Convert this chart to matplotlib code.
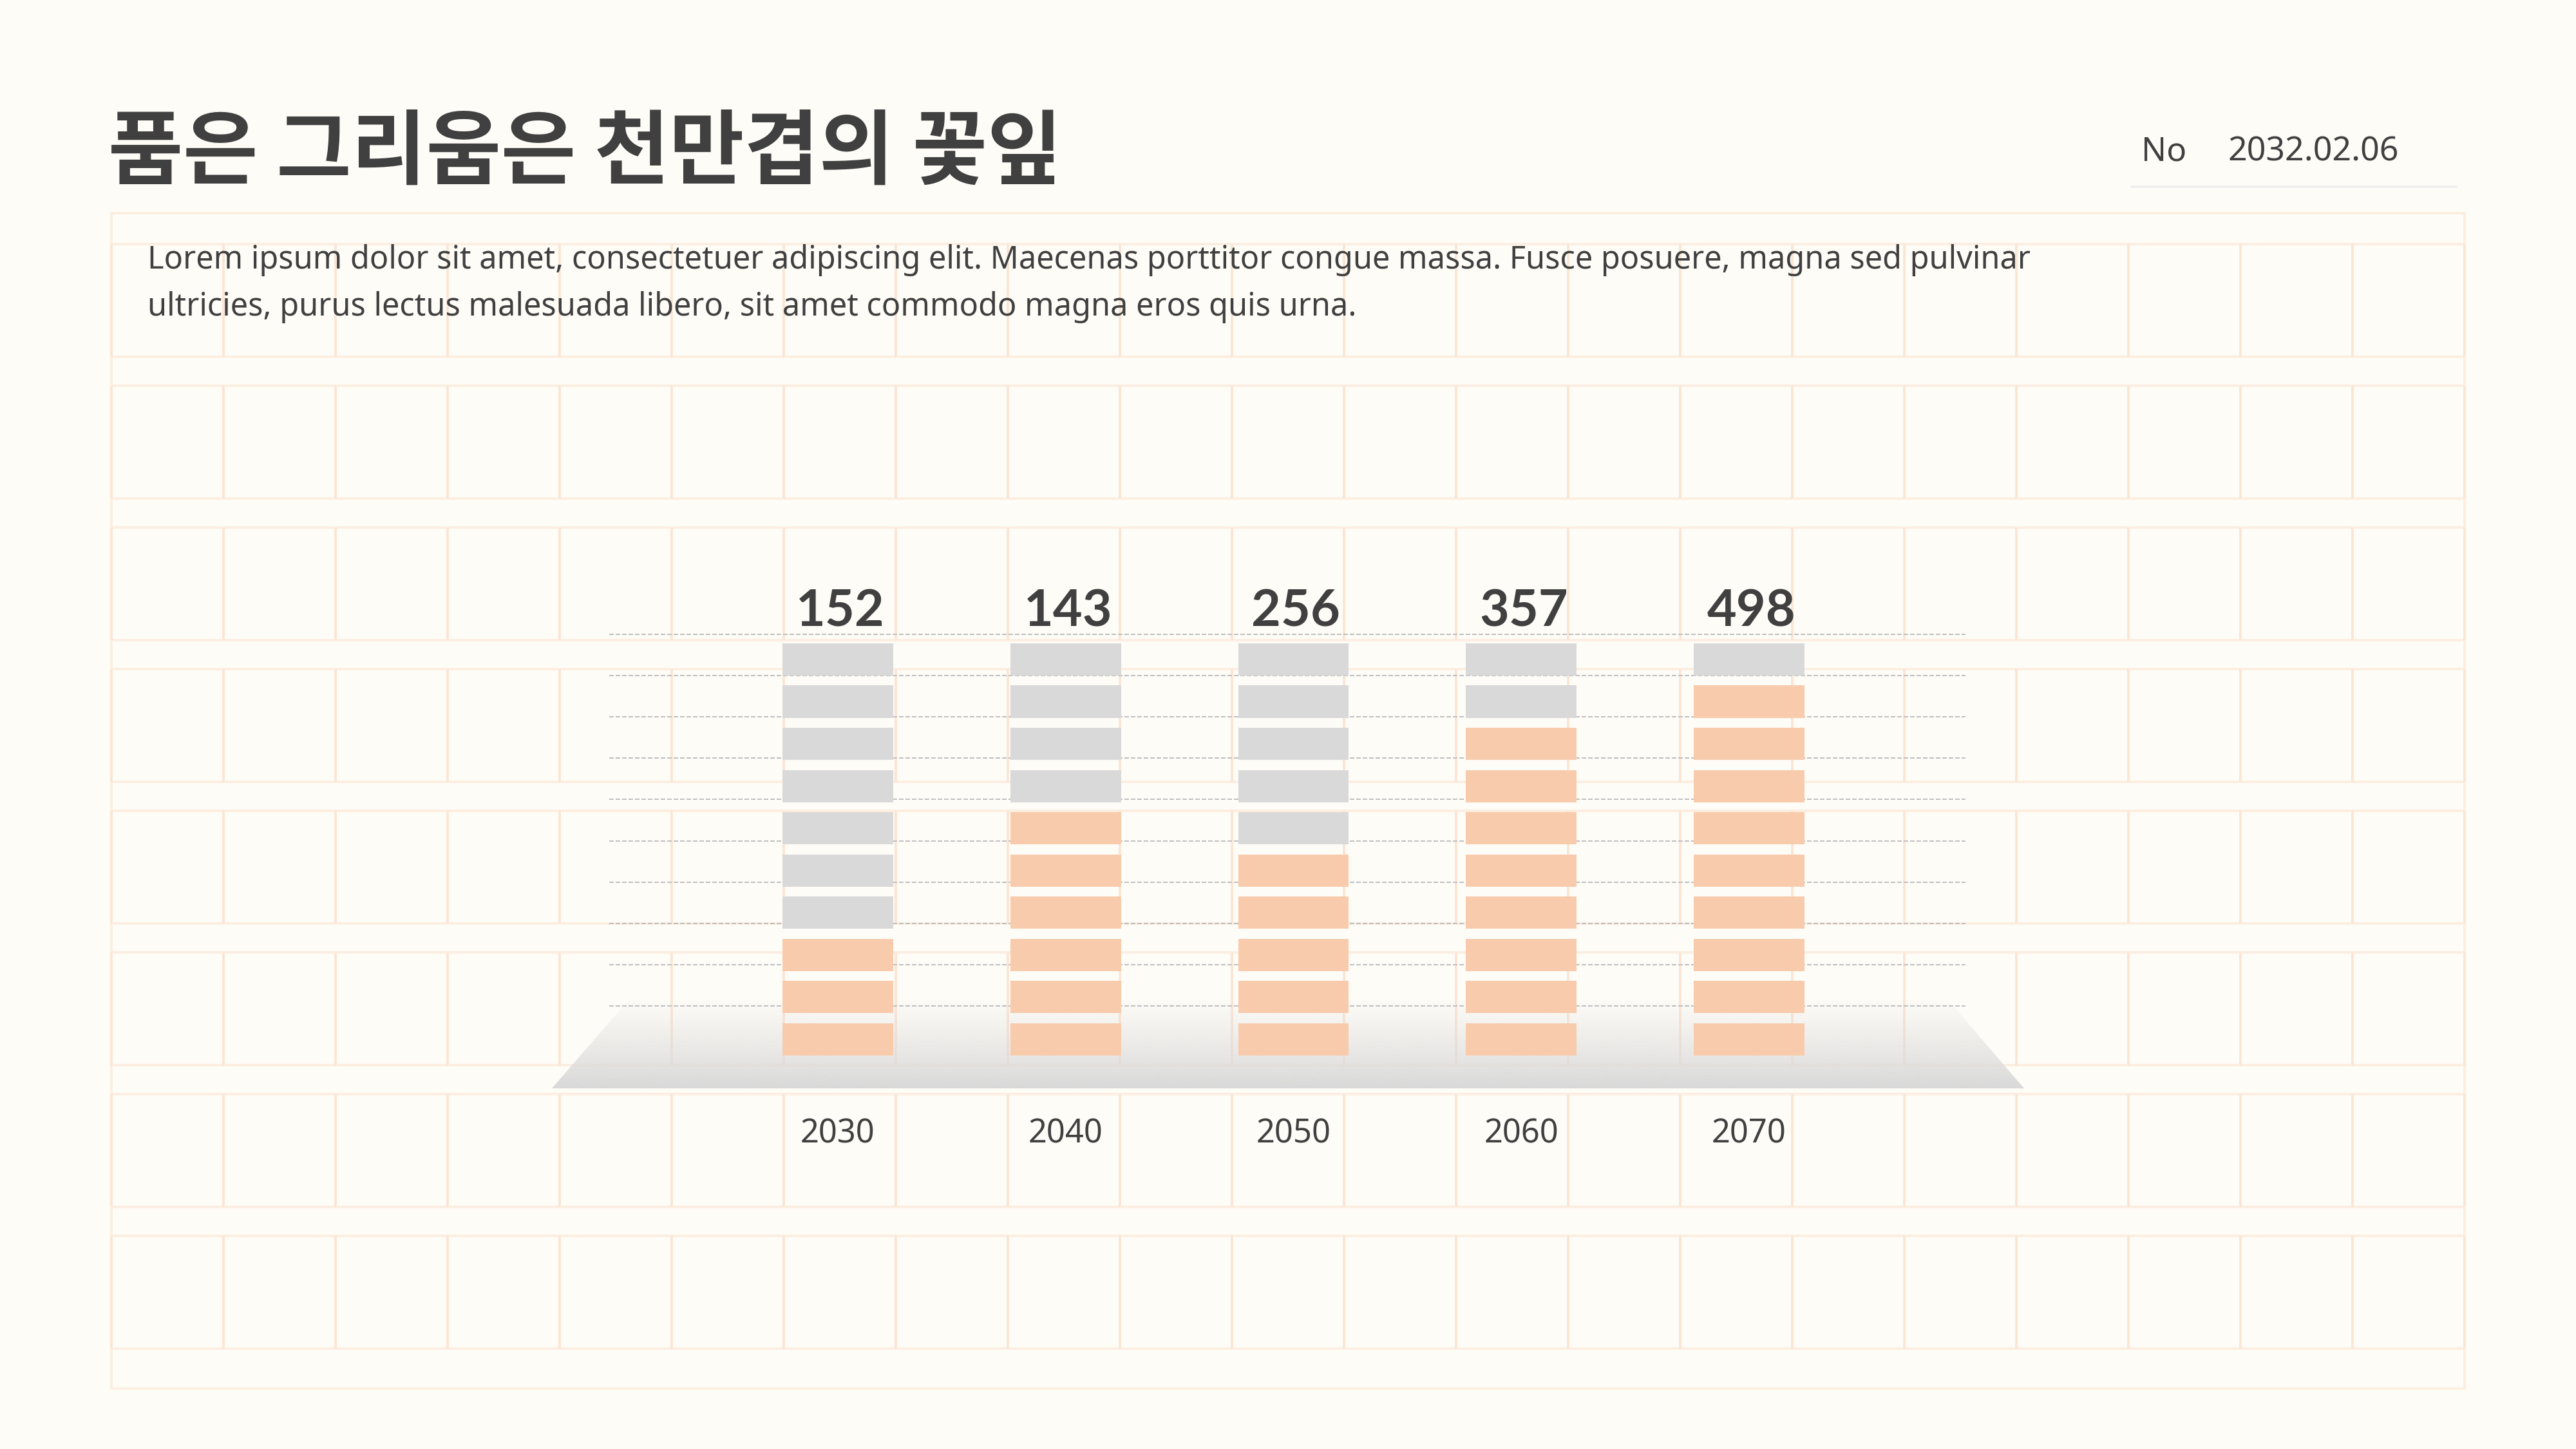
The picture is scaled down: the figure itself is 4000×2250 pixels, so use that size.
import numpy as np
import matplotlib
matplotlib.use('Agg')
import matplotlib.pyplot as plt
from matplotlib.patches import Polygon, Rectangle
from matplotlib.colors import to_rgb

# ---------------- data ----------------
years = ['2030', '2040', '2050', '2060', '2070']
values = [152, 143, 256, 357, 498]
filled_blocks = [3, 6, 5, 8, 9]      # orange blocks in each 10-block stack
TOTAL_BLOCKS = 10

title = '품은 그리움은 천만겹의 꽃잎'
body_lines = ['Lorem ipsum dolor sit amet, consectetuer adipiscing elit. Maecenas porttitor congue massa. Fusce posuere, magna sed pulvinar',
              'ultricies, purus lectus malesuada libero, sit amet commodo magna eros quis urna.']
doc_no = 'No'
doc_date = '2032.02.06'

# ---------------- style ----------------
BG = '#FEFCF7'
PEACH = '#F8CBAD'
GREY = '#D9D9D9'
TEXT = '#404040'
GRID_DARK = '#FBE6D6'
GRID_LIGHT = '#FCEEE1'
DASH = '#BFBFBF'

W, H = 4000, 2250
DPI = 100
PX = 72 / DPI

fig = plt.figure(figsize=(W / DPI, H / DPI), dpi=DPI, facecolor=BG)

# background (manuscript paper) in pixel coordinates
bg = fig.add_axes([0, 0, 1, 1])
bg.set_xlim(0, W)
bg.set_ylim(H, 0)
bg.axis('off')
bg.set_zorder(0)

L, R = 173, 3827
TOP, BOT = 331, 2156
ROW0, ROW_H, ROW_P, NROWS = 379, 175, 220, 8
NCOLS = 21
glw = 4 * PX
bg.add_patch(Rectangle((L, TOP), R - L, BOT - TOP, fill=False, ec=GRID_LIGHT, lw=glw))
col_x = np.linspace(L, R, NCOLS + 1)
for r in range(NROWS):
    y0 = ROW0 + r * ROW_P
    y1 = y0 + ROW_H
    bg.hlines([y0, y1], L, R, colors=GRID_LIGHT, lw=glw)
    bg.vlines(col_x, y0, y1, colors=GRID_DARK, lw=glw)

# texts
bg.text(168, 276, title, family=['Noto Sans CJK KR', 'DejaVu Sans'], fontweight='bold',
        fontsize=91, color=TEXT, va='baseline', ha='left')
bg.text(229, 417, body_lines[0], family='Noto Sans', fontsize=35.1, color=TEXT, va='baseline')
bg.text(229, 490, body_lines[1], family='Noto Sans', fontsize=35.1, color=TEXT, va='baseline')
bg.text(3325, 249, doc_no, family='Noto Sans', fontsize=37, color=TEXT, va='baseline')
bg.text(3460, 249, doc_date, family='Noto Sans', fontsize=37.4, color=TEXT, va='baseline')
bg.hlines(290, 3308, 3816, colors='#EFEFEF', lw=4 * PX)

# ---------------- chart axes ----------------
AX_L, AX_R, AX_T, AX_B = 857, 3143, 900, 1700
ax = fig.add_axes([AX_L / W, 1 - AX_B / H, (AX_R - AX_L) / W, (AX_B - AX_T) / H])
ax.set_zorder(1)
ax.patch.set_alpha(0)
ax.axis('off')

XLIM = (-1.255, 5.207)
YLIM = (-0.930, 11.272)
BLOCK_H = 0.763
BAR_W = 0.486

# floor (gradient trapezoid)
floor_top, floor_bot = 1.33, -0.778
poly = Polygon([[XLIM[0], floor_bot], [XLIM[1], floor_bot], [4.871, floor_top], [-0.916, floor_top]],
               closed=True, fc='none', ec='none')
ax.add_patch(poly)
grad = np.zeros((256, 1, 4))
grad[..., :3] = to_rgb(GREY)
grad[:, 0, 3] = np.linspace(0.03, 1.0, 256) ** 1.1
im = ax.imshow(grad, extent=[XLIM[0], XLIM[1], floor_bot, floor_top], aspect='auto',
               origin='upper', zorder=1, interpolation='bilinear')
im.set_clip_path(poly)

# dashed guide lines
grid_y = np.linspace(1.17, 9.98, 10)
ax.hlines(grid_y, -1.004, 4.95, colors=DASH, lw=2 * PX, linestyles=(0, (3.5, 1.5)), zorder=2)

# stacked blocks
x = np.arange(len(years))
for k in range(TOTAL_BLOCKS):
    cols = [PEACH if k < f else GREY for f in filled_blocks]
    ax.bar(x, BLOCK_H, bottom=k, width=BAR_W, color=cols, linewidth=0, zorder=3)

label_y = TOTAL_BLOCKS - 1 + BLOCK_H + 0.40
for xi, v in zip(x, values):
    ax.text(xi + 0.01, label_y, str(v), ha='center', va='baseline', family=['Lato', 'DejaVu Sans'],
            fontweight='bold', fontsize=57, color=TEXT, zorder=4)
for xi, yr in zip(x, years):
    ax.text(xi, -2.07, yr, ha='center', va='baseline', family='Noto Sans',
            fontsize=36.5, color=TEXT, clip_on=False, zorder=4)

ax.set_xlim(*XLIM)
ax.set_ylim(*YLIM)

fig.savefig('out.png', dpi=DPI, facecolor=BG)
